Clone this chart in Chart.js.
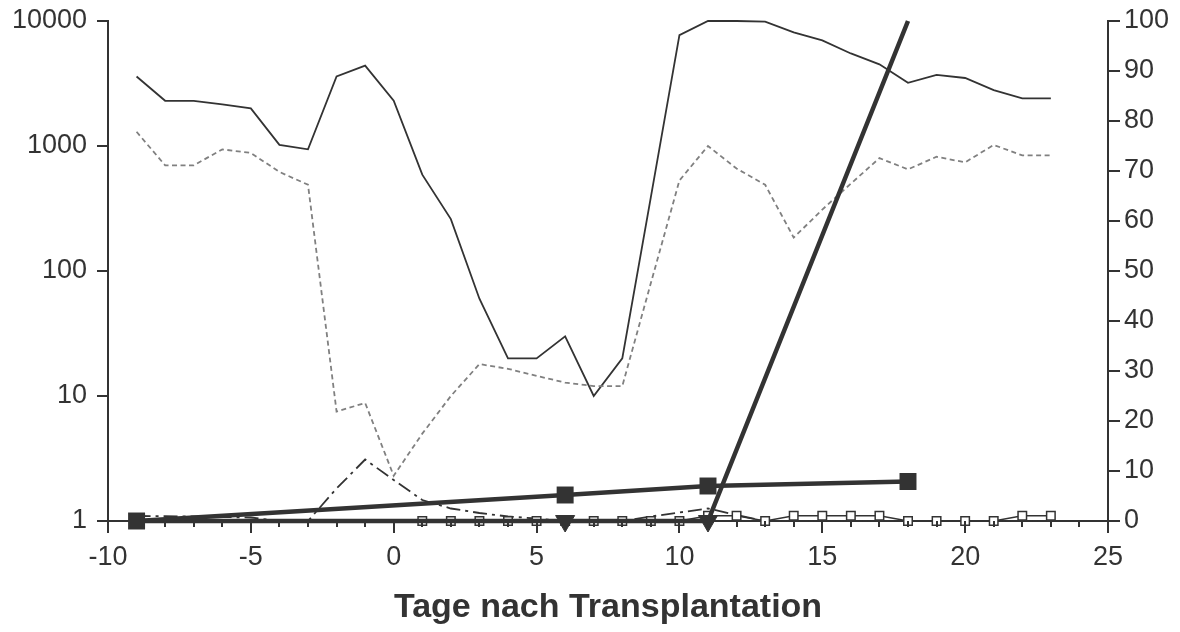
<!DOCTYPE html>
<html>
<head>
<meta charset="utf-8">
<script src="https://cdn.jsdelivr.net/npm/chart.js"></script>
<style>
html,body{margin:0;padding:0;background:#fff}
</style>
</head>
<body>
<canvas id="chart" width="1180" height="632"></canvas>
<script>
// days after transplant, one reading per day
const days = [-9,-8,-7,-6,-5,-4,-3,-2,-1,0,1,2,3,4,5,6,7,8,9,10,11,12,13,14,15,16,17,18,19,20,21,22,23];
const solidVals = [3600,2300,2300,2150,2000,1020,940,3600,4400,2300,590,260,60,20,20,30,10,20,390,7700,10000,10000,9900,8100,7000,5500,4500,3200,3700,3500,2800,2400,2400];
const dashedVals = [1300,700,700,940,880,620,490,7.5,8.8,2.3,5,10,18,16.5,14.5,12.8,12,12,80,530,1000,660,490,185,310,500,800,650,820,740,1020,840,840];
const dashDotVals = [1,0.95,0.9,0.8,0.7,0,0,6.5,12.3,8.2,4.2,2.5,1.6,0.9,0.5,0,0,0,0.9,1.7,2.5,1.2,0,0,0,0,0,0,0,0,0,0,0];

const openDays = [1,2,3,4,5,6,7,8,9,10,11,12,13,14,15,16,17,18,19,20,21,22,23];
const openVals = [1,1,1,1,1,1,1,1,1,1,1.1,1.1,1,1.1,1.1,1.1,1.1,1,1,1,1,1.1,1.1];

const markDays = [-9,6,11,18];
const triangleVals = [0,0,0,100];
const squareVals = [0,5.2,7,7.9];

const leftTicks = [1,10,100,1000,10000];

const ink = '#333333';
const fontFamily = "'Liberation Sans', Arial, sans-serif";

function pts(xs, ys) {
  return xs.map((x, i) => ({ x: x, y: ys[i] }));
}

// small tick marks on all three axes
const tickMarks = {
  id: 'tickMarks',
  afterDraw(chart) {
    const ctx = chart.ctx;
    const a = chart.chartArea;
    const sx = chart.scales.x, sy = chart.scales.y, sy1 = chart.scales.y1;
    ctx.save();
    ctx.strokeStyle = ink;
    ctx.lineWidth = 2;
    ctx.beginPath();
    for (let v = -10; v <= 25; v++) {
      const px = Math.round(sx.getPixelForValue(v));
      const len = v % 5 === 0 ? 12 : 6;
      ctx.moveTo(px, a.bottom);
      ctx.lineTo(px, a.bottom + len);
    }
    leftTicks.forEach(v => {
      const py = Math.round(sy.getPixelForValue(v));
      ctx.moveTo(a.left - 11, py);
      ctx.lineTo(a.left, py);
    });
    for (let v = 0; v <= 100; v += 10) {
      const py = Math.round(sy1.getPixelForValue(v));
      ctx.moveTo(a.right, py);
      ctx.lineTo(a.right + 12, py);
    }
    ctx.stroke();
    ctx.restore();
  }
};

new Chart(document.getElementById('chart'), {
  type: 'line',
  data: {
    datasets: [
      {
        data: pts(markDays, squareVals),
        yAxisID: 'y1',
        borderColor: ink,
        borderWidth: 4.5,
        pointStyle: 'rect',
        pointRadius: 12,
        pointBackgroundColor: ink,
        pointBorderWidth: 0,
        order: 1
      },
      {
        data: pts(markDays, triangleVals),
        yAxisID: 'y1',
        borderColor: ink,
        borderWidth: 4.5,
        pointStyle: 'triangle',
        pointRotation: 180,
        pointRadius: [0, 11, 11, 0],
        pointBackgroundColor: ink,
        pointBorderColor: ink,
        pointBorderWidth: 1,
        order: 2
      },
      {
        data: pts(openDays, openVals),
        yAxisID: 'y',
        borderColor: ink,
        borderWidth: 1.5,
        pointStyle: 'rect',
        pointRadius: 6,
        pointBackgroundColor: '#fff',
        pointBorderColor: ink,
        pointBorderWidth: 1.5,
        order: 3
      },
      {
        data: pts(days, dashDotVals),
        yAxisID: 'y1',
        borderColor: ink,
        borderWidth: 1.8,
        borderDash: [14, 5, 3, 5],
        pointRadius: 0,
        order: 4
      },
      {
        data: pts(days, dashedVals),
        yAxisID: 'y',
        borderColor: '#808080',
        borderWidth: 1.8,
        borderDash: [5, 3.5],
        pointRadius: 0,
        order: 5
      },
      {
        data: pts(days, solidVals),
        yAxisID: 'y',
        borderColor: ink,
        borderWidth: 1.8,
        pointRadius: 0,
        order: 6
      }
    ]
  },
  options: {
    responsive: false,
    animation: false,
    clip: false,
    layout: { padding: { top: 21, left: 0, right: 0, bottom: 0 } },
    plugins: { legend: { display: false }, tooltip: { enabled: false } },
    elements: { line: { tension: 0, fill: false } },
    scales: {
      x: {
        type: 'linear',
        min: -10,
        max: 25,
        grid: { display: false },
        border: { display: true, color: ink, width: 2 },
        ticks: {
          stepSize: 5,
          color: ink,
          padding: 12,
          font: { family: fontFamily, size: 27 }
        },
        title: {
          display: true,
          text: 'Tage nach Transplantation',
          color: ink,
          padding: { top: 0, bottom: 4 },
          font: { family: fontFamily, size: 34, weight: 'bold' }
        },
        afterFit(scale) {
          scale.height = 111;
          scale.paddingLeft = 0;
          scale.paddingRight = 0;
        }
      },
      y: {
        type: 'logarithmic',
        position: 'left',
        min: 1,
        max: 10000,
        grid: { display: false },
        border: { display: true, color: ink, width: 2 },
        afterBuildTicks(scale) {
          scale.ticks = leftTicks.map(v => ({ value: v }));
        },
        ticks: {
          color: ink,
          padding: 13,
          font: { family: fontFamily, size: 27 },
          callback: v => String(v)
        },
        afterFit(scale) {
          scale.width = 108;
          scale.paddingTop = 0;
          scale.paddingBottom = 0;
        }
      },
      y1: {
        type: 'linear',
        position: 'right',
        min: 0,
        max: 100,
        grid: { display: false },
        border: { display: true, color: ink, width: 2 },
        ticks: {
          stepSize: 10,
          color: ink,
          padding: 8,
          font: { family: fontFamily, size: 27 }
        },
        afterFit(scale) {
          scale.width = 72;
          scale.paddingTop = 0;
          scale.paddingBottom = 0;
        }
      }
    }
  },
  plugins: [tickMarks]
});
</script>
</body>
</html>
